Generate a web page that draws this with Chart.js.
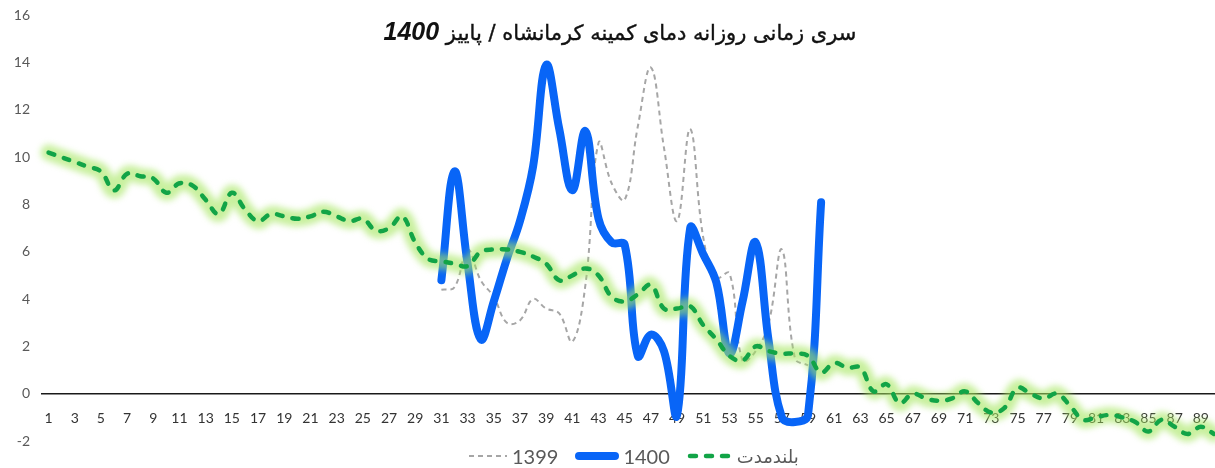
<!DOCTYPE html>
<html>
<head>
<meta charset="utf-8">
<script src="https://cdn.jsdelivr.net/npm/chart.js@4"></script>
<style>
  html, body { margin: 0; padding: 0; background: #fff; overflow: hidden; }
  #wrap { position: relative; width: 1230px; height: 468px; }
  #plot { position: absolute; left: 0; top: -5px; width: 1230px; height: 473px; }
  #title {
    position: absolute; left: 0; top: 17px; width: 1240px; text-align: center;
    font-family: "DejaVu Sans", sans-serif; font-size: 21px; color: #111;
    -webkit-text-stroke: 0.4px #111;
  }
  #title b { font-family: "Liberation Sans", Arial, sans-serif; font-style: italic; font-size: 25px; -webkit-text-stroke: 0; }
  #legend {
    position: absolute; left: 468px; top: 444px; display: flex; align-items: center;
    font-family: Lato, "DejaVu Sans", sans-serif; font-size: 20px; color: #595959;
  }
  #legend .item { display: flex; align-items: center; margin-right: 17px; }
  #legend svg { margin-right: 4px; }
  #legend .fa { font-family: "DejaVu Sans", sans-serif; font-size: 18px; }
</style>
</head>
<body>
<div id="wrap">
  <div id="plot"><canvas id="tempChart"></canvas></div>
  <div id="title" dir="rtl">سری زمانی روزانه دمای کمینه کرمانشاه / پاییز <b>1400</b></div>
  <div id="legend"></div>
</div>
<script>
// days of autumn (1..90)
const days = [];
for (let d = 1; d <= 90; d++) days.push(String(d));

// long-term mean (بلندمدت)
const longTerm = [
  10.2, 10.0, 9.8, 9.6, 9.4, 8.6, 9.3, 9.2, 9.1, 8.5,
  8.9, 8.8, 8.2, 7.6, 8.5, 7.8, 7.3, 7.6, 7.5, 7.4,
  7.5, 7.7, 7.5, 7.3, 7.4, 6.9, 7.0, 7.5, 6.4, 5.7,
  5.6, 5.5, 5.4, 6.0, 6.1, 6.1, 6.0, 5.8, 5.5, 4.8,
  5.0, 5.3, 5.0, 4.1, 3.9, 4.2, 4.6, 3.6, 3.6, 3.7,
  2.9, 2.3, 1.6, 1.4, 2.0, 1.8, 1.7, 1.7, 1.6, 0.9,
  1.3, 1.1, 1.1, 0.1, 0.4, -0.4, 0.0, -0.2, -0.3, -0.2,
  0.1, -0.4, -0.8, -0.6, 0.25, 0.0, -0.2, 0.0, -0.5, -1.1,
  -1.0, -0.9, -1.0, -1.2, -1.6, -1.1, -1.4, -1.7, -1.4, -1.7
];

// 1400, days 31..60
const start1400 = 31;
const temp1400 = [
  4.8, 9.4, 5.5, 2.3, 3.9, 5.7, 7.3, 9.6, 13.9, 11.2,
  8.6, 11.1, 7.4, 6.4, 6.3, 1.6, 2.5, 1.8, -0.9, 7.0,
  5.9, 4.7, 1.7, 3.9, 6.4, 2.2, -1.0, -1.2, -0.9, 8.1
];

// 1399, days 31..59
const start1399 = 31;
const temp1399 = [
  4.4, 4.5, 6.1, 4.8, 4.1, 3.0, 3.1, 4.0, 3.6, 3.4,
  2.2, 4.6, 10.6, 8.9, 8.2, 11.3, 13.8, 10.4, 7.3, 11.2,
  6.6, 4.9, 5.1, 1.4, 1.8, 3.0, 6.1, 1.5, 1.2
];

const yTicks = { min: -2, max: 16, step: 2 };

const seriesNames = ["1399", "1400", "بلندمدت"];
const seriesColors = ["#a6a6a6", "#0865f7", "#12a447"];

function placeOnDays(values, firstDay) {
  return days.map((d, i) => {
    const k = i + 1 - firstDay;
    return k >= 0 && k < values.length ? values[k] : null;
  });
}

// soft green halo under the long-term line
const glowPlugin = {
  id: "glow",
  beforeDatasetDraw(chart, args) {
    const ds = chart.data.datasets[args.index];
    if (!ds.glow) return;
    const ctx = chart.ctx;
    ctx.save();
    ctx.beginPath();
    args.meta.dataset.path(ctx);
    ctx.lineWidth = 16;
    ctx.lineJoin = "round";
    ctx.lineCap = "round";
    ctx.strokeStyle = "rgba(165,230,95,0.6)";
    ctx.filter = "blur(3px)";
    ctx.stroke();
    ctx.restore();
  }
};

const ctx = document.getElementById("tempChart");
new Chart(ctx, {
  type: "line",
  data: {
    labels: days,
    datasets: [
      {
        label: seriesNames[0],
        data: placeOnDays(temp1399, start1399),
        borderColor: seriesColors[0],
        borderWidth: 2,
        borderDash: [5, 4],
        order: 2
      },
      {
        label: seriesNames[1],
        data: placeOnDays(temp1400, start1400),
        borderColor: seriesColors[1],
        borderWidth: 8,
        borderCapStyle: "round",
        borderJoinStyle: "round",
        order: 1
      },
      {
        label: seriesNames[2],
        data: longTerm,
        borderColor: seriesColors[2],
        borderWidth: 4.5,
        borderDash: [6, 10],
        borderCapStyle: "round",
        glow: true,
        order: 0
      }
    ]
  },
  options: {
    responsive: true,
    maintainAspectRatio: false,
    animation: false,
    layout: { padding: { left: 0, right: 8, top: 10, bottom: 27 } },
    elements: {
      point: { radius: 0, hoverRadius: 0 },
      line: { tension: 0.4 }
    },
    plugins: {
      legend: { display: false },
      title: { display: false },
      tooltip: { enabled: false }
    },
    scales: {
      x: {
        type: "category",
        position: { y: 0 },
        offset: true,
        grid: { display: false, drawTicks: false },
        border: { display: true, color: "#1a1a1a", width: 1.5 },
        ticks: {
          autoSkip: false,
          maxRotation: 0,
          padding: 16,
          color: "#333",
          font: { family: "Lato", size: 14 },
          callback: (v, i) => (i % 2 === 0 ? days[i] : "")
        }
      },
      y: {
        min: yTicks.min,
        max: yTicks.max,
        grid: { display: false, drawTicks: false },
        border: { display: false },
        ticks: {
          stepSize: yTicks.step,
          padding: 12,
          color: "#595959",
          font: { family: "Lato", size: 14 }
        },
        afterFit: (scale) => { scale.width = 42; }
      }
    }
  },
  plugins: [glowPlugin]
});

// legend drawn as html, left-to-right: 1399, 1400, long-term
const legendEl = document.getElementById("legend");
const samples = [
  '<svg width="40" height="12"><line x1="1" y1="6" x2="39" y2="6" stroke="' + seriesColors[0] + '" stroke-width="2" stroke-dasharray="5 4"/></svg>',
  '<svg width="44" height="12"><line x1="4" y1="6" x2="40" y2="6" stroke="' + seriesColors[1] + '" stroke-width="8" stroke-linecap="round"/></svg>',
  '<svg width="46" height="12"><line x1="3" y1="6" x2="43" y2="6" stroke="' + seriesColors[2] + '" stroke-width="4.5" stroke-dasharray="6 10" stroke-linecap="round"/></svg>'
];
seriesNames.forEach((name, i) => {
  const item = document.createElement("span");
  item.className = "item";
  item.innerHTML = samples[i] + '<span class="' + (i === 2 ? "fa" : "") + '">' + name + "</span>";
  legendEl.appendChild(item);
});
</script>
</body>
</html>
